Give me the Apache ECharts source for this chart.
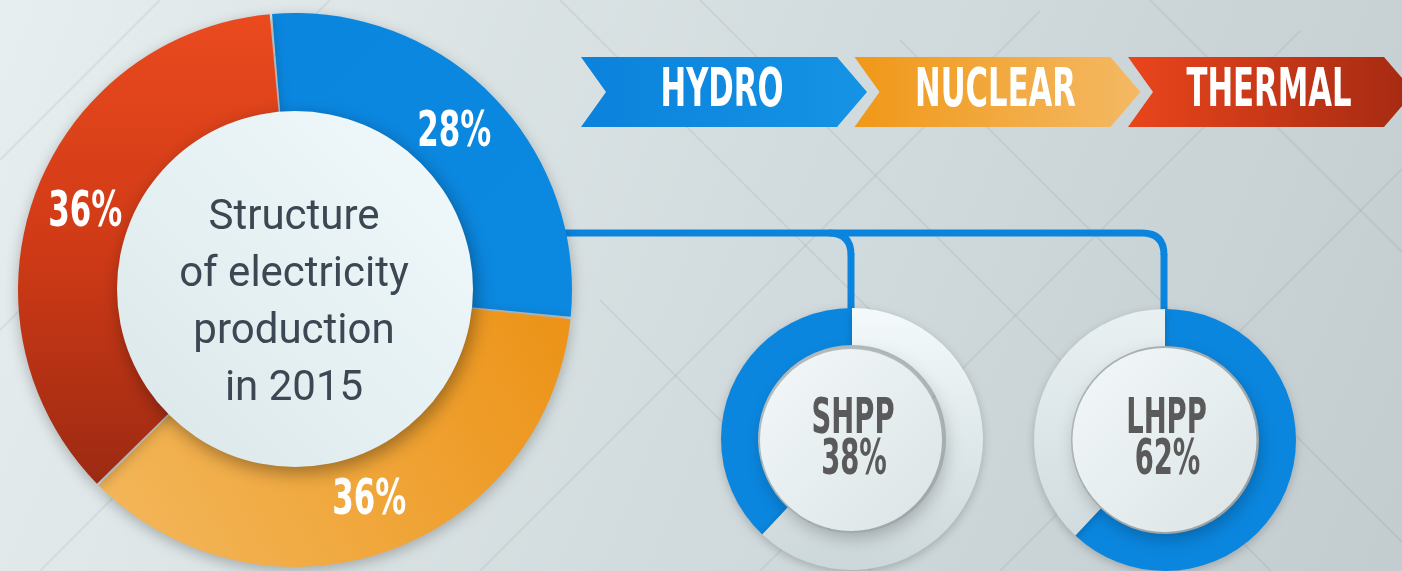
<!DOCTYPE html>
<html><head><meta charset="utf-8">
<script src="https://cdn.jsdelivr.net/npm/echarts@6/dist/echarts.min.js"></script>
<style>html,body{margin:0;padding:0;overflow:hidden;}#c{width:1402px;height:571px;}</style>
</head><body><div id="c"></div>
<script>
// ---- data ----
const categories = ['HYDRO', 'NUCLEAR', 'THERMAL'];
const shares = [28, 36, 36];
const centerTitle = ['Structure', 'of electricity', 'production', 'in 2015'];
const hydroParts = ['SHPP', 'LHPP'];
const hydroShares = [38, 62];

// ---- styles ----
const BLUE = '#0a86df';
const NARROW = '"Liberation Sans Narrow","DejaVu Sans Condensed","Arial Narrow",sans-serif';
const lg = (x, y, x2, y2, stops) => new echarts.graphic.LinearGradient(x, y, x2, y2,
  stops.map((c, i) => ({offset: i / (stops.length - 1), color: c})));

const sliceColors = [
  lg(0, 0, 1, 1, ['#0a86df', '#0b88e0']),
  lg(1, 0, 0, 1, ['#ec9216', '#f0a63a', '#f3b85e']),
  lg(0, 0, 0, 1, ['#ea4a1e', '#cf3a16', '#9c2a12'])
];
const chevronColors = [
  lg(0, 0, 1, 0, ['#0b82dc', '#1593e4']),
  lg(0, 0, 1, 0, ['#f09818', '#f4b964']),
  lg(0, 0, 1, 0, ['#ea451c', '#a42a12'])
];

const mctx = document.createElement('canvas').getContext('2d');
function measure(text, font) { mctx.font = font; return mctx.measureText(text).width; }

const chart = echarts.init(document.getElementById('c'), null, {renderer: 'canvas'});

// ---- graphic decorations ----
const graphics = [];
graphics.push({
  type: 'rect', z: -20, shape: {x: 0, y: 0, width: 1402, height: 571},
  style: {fill: lg(0, 0, 1, 1, ['#e7eeef', '#d3dcde', '#c3cdd0'])}
});
const diag = [
  [0, 160, 160, 0], [0, 330, 330, 0], [40, 571, 420, 190], [560, 0, 980, 420], [700, 0, 1271, 571],
  [900, 40, 1402, 542], [1000, 571, 1402, 169], [760, 571, 1300, 31], [480, 571, 1040, 11],
  [1150, 0, 1402, 252], [600, 300, 871, 571]
];
diag.forEach(d => graphics.push({
  type: 'line', z: -19, shape: {x1: d[0], y1: d[1], x2: d[2], y2: d[3]},
  style: {stroke: 'rgba(120,135,140,0.13)', lineWidth: 2}
}));

// connector line
const connStyle = {stroke: '#0b84de', lineWidth: 7, fill: null};
graphics.push({type: 'polyline', z: 1, shape: {points: [[540, 233], [1142, 233]]}, style: connStyle});
[851, 1164].forEach(x => {
  graphics.push({type: 'bezierCurve', z: 1, shape: {x1: x - 22, y1: 233, x2: x, y2: 255, cpx1: x, cpy1: 233}, style: connStyle});
  graphics.push({type: 'polyline', z: 1, shape: {points: [[x, 254], [x, 318]]}, style: connStyle});
});

// chevron legend
const hydroFont = 'bold ' + Math.round(38 / 0.72) + 'px ' + NARROW;
const legScale = 123 / measure('HYDRO', hydroFont);
categories.forEach((name, i) => {
  const L = 581 + i * 273.5, R = L + 256, T = 57, B = 127, M = 92;
  graphics.push({
    type: 'polygon', z: 5,
    shape: {points: [[L, T], [R, T], [R + 30, M], [R, B], [L, B], [L + 25, M]]},
    style: {fill: chevronColors[i]}
  });
  graphics.push({
    type: 'text', z: 6, x: L + 141, y: 92, scaleX: legScale,
    style: {text: name, font: hydroFont, fill: '#ffffff', textAlign: 'center', textVerticalAlign: 'middle'}
  });
});

// main inner disc + title
graphics.push({
  type: 'circle', z: 10, shape: {cx: 295, cy: 289, r: 178},
  style: {fill: lg(1, 0, 0, 1, ['#f1f9fb', '#e6f1f4', '#dbe6e9']),
          shadowBlur: 18, shadowColor: 'rgba(0,0,0,0.35)', shadowOffsetX: 3, shadowOffsetY: 6}
});
graphics.push({
  type: 'text', z: 11, x: 294, y: 304,
  style: {text: centerTitle.join('\n'), font: '42px Roboto, "Liberation Sans", sans-serif', lineHeight: 57,
          fill: '#3b4752', textAlign: 'center', textVerticalAlign: 'middle'}
});

// small donut discs + texts
const subCenters = [[852, 439], [1165, 440]];
const subDisc = [[851, 440, 91], [1164.5, 440, 92]];
const subFont = 'bold ' + Math.round(36 / 0.72) + 'px ' + NARROW;
const subScale = 83 / measure('SHPP', subFont);
hydroParts.forEach((name, i) => {
  const d = subDisc[i];
  graphics.push({
    type: 'circle', z: 10, shape: {cx: d[0], cy: d[1], r: d[2]},
    style: {fill: lg(0, 0, 1, 1, ['#f3f8f9', '#e7eef0', '#dbe3e5']),
            shadowBlur: 18, shadowColor: 'rgba(0,0,0,0.25)', shadowOffsetX: 3, shadowOffsetY: 7}
  });
  graphics.push({
    type: 'text', z: 11, x: d[0] + 2, y: 420, scaleX: subScale,
    style: {text: name, font: subFont, fill: '#5a5a5a', textAlign: 'center', textVerticalAlign: 'middle'}
  });
  graphics.push({
    type: 'text', z: 11, x: d[0] + 3, y: 461, scaleX: subScale,
    style: {text: hydroShares[i] + '%', font: subFont, fill: '#5a5a5a', textAlign: 'center', textVerticalAlign: 'middle'}
  });
});

// ---- series ----
const ringLight = [lg(0, 0, 0, 1, ['#f4fafb', '#dfe8ea', '#ccd7da']), lg(0, 0, 0, 1, ['#e9f0f2', '#dde6e8', '#d2dcdf'])];
const subSeries = hydroParts.map((name, i) => {
  const other = 1 - i;
  return {
    type: 'pie', z: 3, silent: true, animation: false,
    center: subCenters[i], radius: [94, 131], startAngle: 90, clockwise: i === 1,
    label: {show: false}, labelLine: {show: false},
    itemStyle: {shadowBlur: 10, shadowColor: 'rgba(0,0,0,0.2)', shadowOffsetY: 3},
    data: [
      {name: name, value: hydroShares[i], itemStyle: {color: BLUE}},
      {name: hydroParts[other], value: hydroShares[other], itemStyle: {color: ringLight[i]}}
    ]
  };
});

const mainSeries = {
  type: 'pie', z: 2, silent: true,
  center: [295, 290], radius: [170, 277], startAngle: 95, clockwise: true, padAngle: 0.5,
  itemStyle: {shadowBlur: 14, shadowColor: 'rgba(0,0,0,0.25)', shadowOffsetY: 4},
  label: {
    show: false, position: 'inside', formatter: p => p.value + '%',
    color: '#ffffff', fontSize: 42, fontWeight: 'bold', fontFamily: '"Liberation Sans", sans-serif'
  },
  labelLine: {show: false},
  data: categories.map((n, i) => ({name: n, value: shares[i], itemStyle: {color: sliceColors[i]}}))
};

chart.setOption({
  animation: false,
  graphic: {elements: graphics},
  series: [mainSeries].concat(subSeries)
});

// slice value labels, placed at the pie layout's mid-angle / mid-radius of each slice
try {
  const data = chart.getModel().getSeriesByIndex(0).getData();
  const labFont = 'bold ' + Math.round(35 / 0.72) + 'px ' + NARROW;
  const labScale = 74 / measure('36%', labFont);
  const labels = [];
  shares.forEach((v, i) => {
    const l = data.getItemLayout(i);
    const mid = (l.startAngle + l.endAngle) / 2;
    const r = (l.r + l.r0) / 2;
    labels.push({
      type: 'text', z: 8, x: l.cx + r * Math.cos(mid), y: l.cy + r * Math.sin(mid), scaleX: labScale,
      style: {text: v + '%', font: labFont, fill: '#ffffff', textAlign: 'center', textVerticalAlign: 'middle'}
    });
  });
  chart.setOption({graphic: {elements: graphics.concat(labels)}}, {replaceMerge: ['graphic']});
} catch (e) {
  chart.setOption({series: [{label: {show: true}}]});
}
</script>
</body></html>
